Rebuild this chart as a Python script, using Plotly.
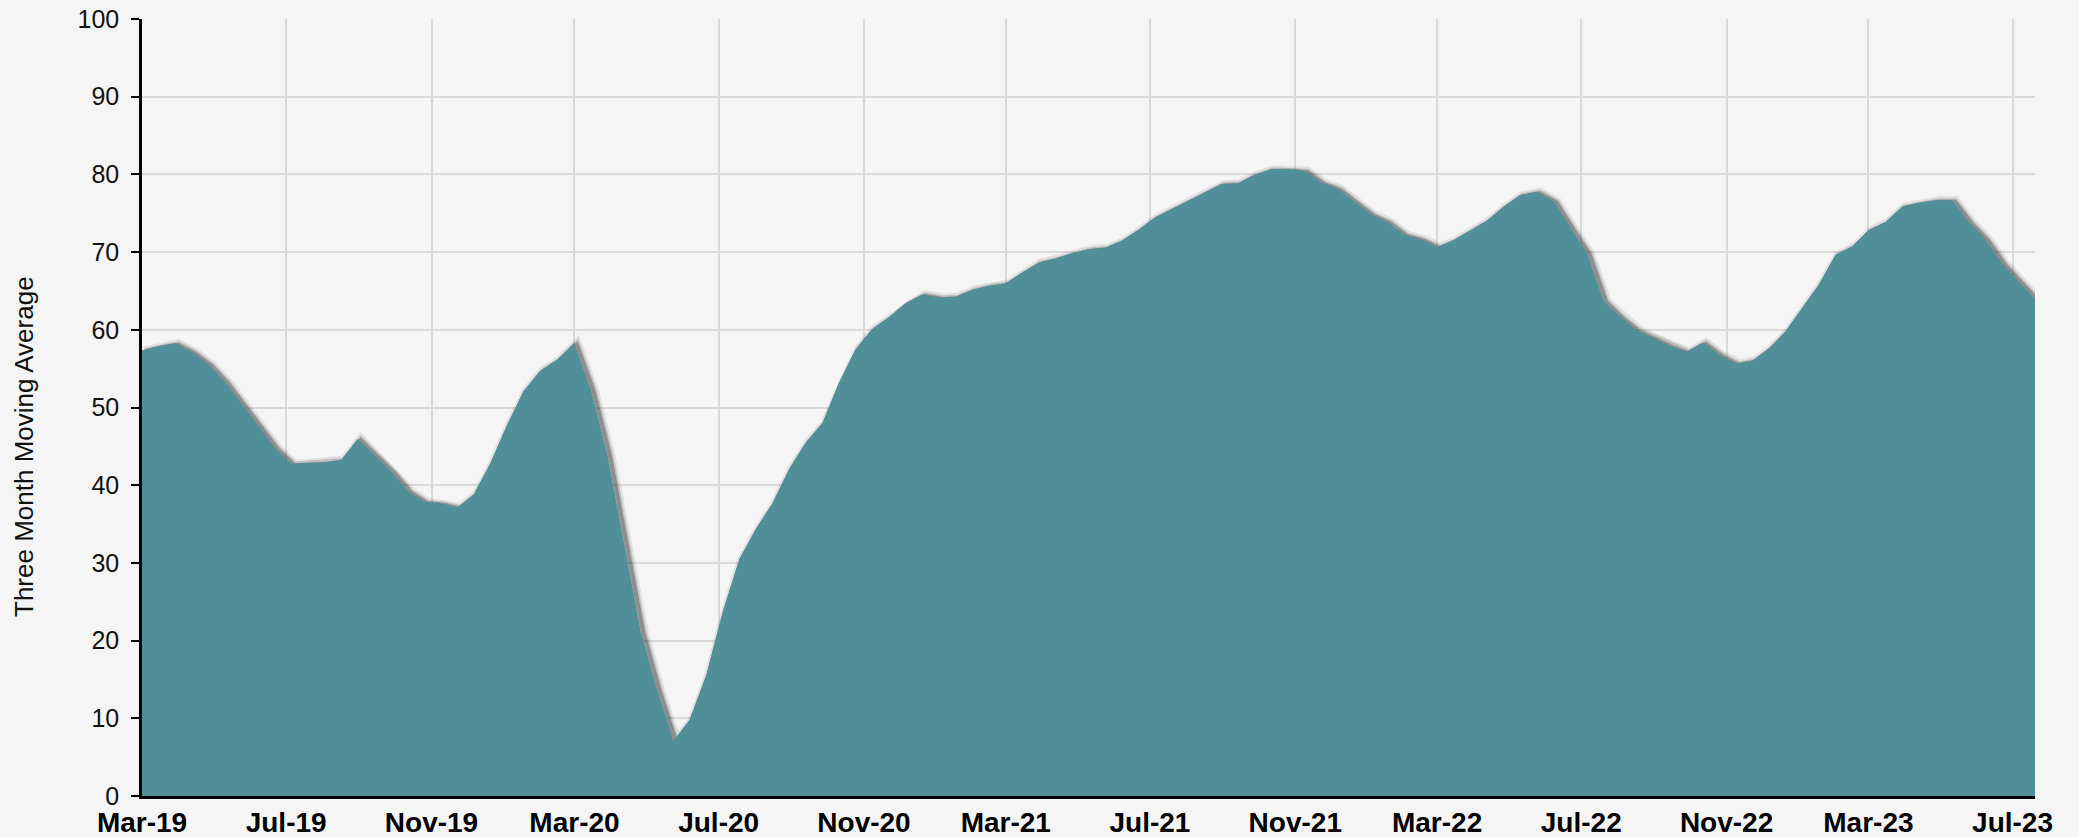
import plotly.graph_objects as go
import pandas as pd

# ---- data (biweekly three-month moving average readings) ----
start_date = "2019-03-01"
end_date = "2023-07-20"
values = [
    57.3, 57.85, 58.2, 57.1, 55.5, 53.2, 50.4, 47.55, 44.7, 42.7,
    42.8, 42.9, 43.2, 45.9, 43.8, 41.7, 39.2, 37.8, 37.6, 37.1,
    38.8, 42.8, 47.7, 52.1, 54.7, 56.1, 58.2, 52.3, 43.9, 32.8,
    21.2, 13.6, 7.0, 9.8, 15.5, 23.7, 30.5, 34.4, 37.7, 42.1,
    45.5, 48.0, 53.2, 57.5, 60.1, 61.6, 63.4, 64.5, 64.1, 64.2,
    65.1, 65.6, 65.9, 67.3, 68.6, 69.1, 69.8, 70.3, 70.5, 71.4,
    72.8, 74.4, 75.5, 76.5, 77.6, 78.7, 78.8, 79.9, 80.6, 80.6,
    80.4, 78.9, 78.1, 76.4, 74.8, 73.8, 72.2, 71.6, 70.6, 71.5,
    72.8, 74.0, 75.8, 77.3, 77.7, 76.5, 73.1, 69.8, 63.7, 61.6,
    59.9, 58.9, 57.9, 57.1, 58.3, 56.7, 55.6, 56.0, 57.6, 59.8,
    62.8, 65.8, 69.6, 70.7, 72.8, 73.8, 75.8, 76.3, 76.6, 76.6,
    73.8, 71.6, 68.5, 66.2, 63.9,
]
dates = pd.date_range(start_date, end_date, periods=len(values))
y_title = "Three Month Moving Average"
y_range = [0, 100]

# ---- layout geometry / style ----
W, H = 2079, 837
ML, MR, MT, MB = 142, 44, 19, 41
plot_w = W - ML - MR
plot_h = H - MT - MB
BG = "#f5f5f5"
FILL = "#508F98"
GRID = "#d9d9d9"
FONT = "Liberation Sans, Arial, sans-serif"

# shadow offset (pixels) realised through a shifted, hidden pair of axes
t0, t1 = pd.Timestamp(start_date), pd.Timestamp(end_date)
span = t1 - t0
dx = span * (3.0 / plot_w)
dy = (y_range[1] - y_range[0]) * (1.0 / plot_h)
shadow_xr = [(t0 - dx).isoformat(), (t1 - dx).isoformat()]
shadow_yr = [y_range[0] + dy, y_range[1] + dy]

fig = go.Figure()
for w, a in [(11, 0.10), (7, 0.18), (4, 0.32)]:
    fig.add_trace(go.Scatter(
        x=dates, y=values, mode="lines",
        line=dict(color=f"rgba(40,40,40,{a})", width=w),
        hoverinfo="skip", showlegend=False, xaxis="x", yaxis="y",
    ))
fig.add_trace(go.Scatter(
    x=dates, y=values, mode="lines", fill="tozeroy",
    fillcolor=FILL, line=dict(color=FILL, width=1),
    showlegend=False, xaxis="x2", yaxis="y2",
))

fig.update_layout(
    width=W, height=H,
    margin=dict(l=ML, r=MR, t=MT, b=MB, pad=0),
    paper_bgcolor=BG, plot_bgcolor=BG,
    font=dict(family=FONT, color="#111111"),
    xaxis=dict(type="date", range=shadow_xr, visible=False, fixedrange=True),
    yaxis=dict(range=shadow_yr, visible=False, fixedrange=True),
    xaxis2=dict(
        type="date", overlaying="x", anchor="y2", range=[t0.isoformat(), t1.isoformat()],
        tick0=start_date, dtick="M4", tickformat="%b-%y",
        showgrid=True, gridcolor=GRID, gridwidth=1.5,
        showline=True, linecolor="#000000", linewidth=3,
        ticks="", ticklen=0, ticklabelstandoff=-1,
        ticklabeloverflow="allow",
        tickfont=dict(size=28, weight="bold", color="#000000", family=FONT),
        automargin=False, zeroline=False,
    ),
    yaxis2=dict(
        overlaying="y", anchor="x2", range=y_range, dtick=10, tick0=0,
        showgrid=True, gridcolor=GRID, gridwidth=1.5,
        showline=True, linecolor="#000000", linewidth=2.5,
        ticks="outside", ticklen=8, tickwidth=2, tickcolor="#000000",
        ticklabelstandoff=7, ticklabeloverflow="allow",
        tickfont=dict(size=25, color="#111111", family=FONT),
        automargin=False, zeroline=False,
    ),
    annotations=[dict(
        text=y_title, textangle=-90, showarrow=False,
        xref="paper", yref="paper", x=(24 - ML) / plot_w, y=(796 - 447) / plot_h,
        xanchor="center", yanchor="middle",
        font=dict(size=26, color="#111111", family=FONT),
    )],
)

fig.write_html(
    "out.html",
    config={"displayModeBar": False},
    post_script="document.body.style.margin='0';document.body.style.background='#f5f5f5';",
)
